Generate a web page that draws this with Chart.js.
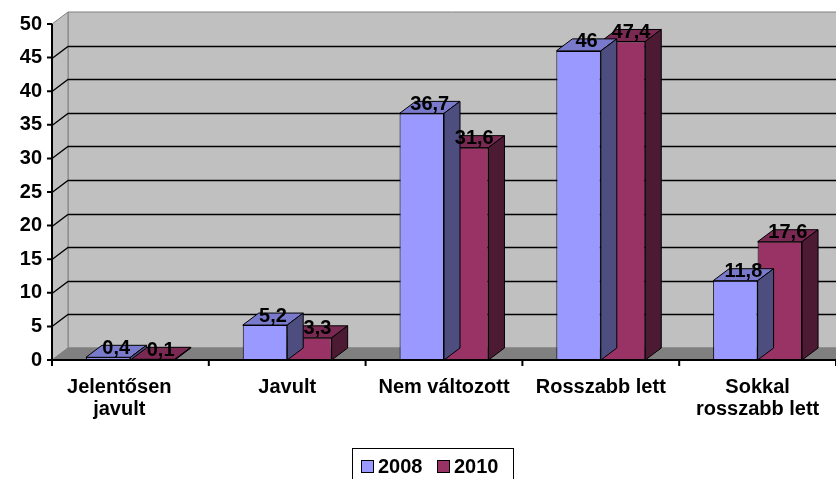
<!DOCTYPE html>
<html>
<head>
<meta charset="utf-8">
<script src="https://cdn.jsdelivr.net/npm/chart.js@4.4.1/dist/chart.umd.min.js"></script>
<style>
  body { margin: 0; background: #fff; }
  #wrap { width: 836px; height: 479px; }
</style>
</head>
<body>
<div id="wrap"><canvas id="chart"></canvas></div>
<script>
// first label sits a little left of its slot in the original, trailing spaces push it over
const categories = [["Jelentősen    ", "javult    "], "Javult", "Nem változott", "Rosszabb lett", ["Sokkal", "rosszabb lett"]];
const values2008 = [0.4, 5.2, 36.7, 46, 11.8];
const values2010 = [0.1, 3.3, 31.6, 47.4, 17.6];
const seriesNames = ["2008", "2010"];
const yMin = 0, yMax = 50, yStep = 5;

const FONT = "'Liberation Sans', Arial, sans-serif";
const DX = 16, DY = -12; // depth of the 3d box

const colors = [
  { front: "#9999ff", top: "#7a7acc", side: "#4d4d80" },
  { front: "#993366", top: "#7a2952", side: "#4d1a33" },
];

function fmt(v) {
  return String(v).replace(".", ",");
}

function poly(ctx, pts, fill, stroke) {
  ctx.beginPath();
  ctx.moveTo(pts[0][0], pts[0][1]);
  for (let i = 1; i < pts.length; i++) ctx.lineTo(pts[i][0], pts[i][1]);
  ctx.closePath();
  if (fill) { ctx.fillStyle = fill; ctx.fill(); }
  if (stroke) { ctx.strokeStyle = stroke; ctx.lineWidth = 1; ctx.stroke(); }
}

const box3d = {
  id: "box3d",
  beforeDatasetsDraw(chart) {
    const ctx = chart.ctx;
    const { left: L, right: R, top: T, bottom: B } = chart.chartArea;
    const y = chart.scales.y;
    ctx.save();
    // back wall, side wall, floor
    poly(ctx, [[L + DX, T + DY], [R + DX, T + DY], [R + DX, B + DY], [L + DX, B + DY]], "#c0c0c0", "#808080");
    poly(ctx, [[L, T], [L + DX, T + DY], [L + DX, B + DY], [L, B]], "#c0c0c0", "#808080");
    poly(ctx, [[L, B], [L + DX, B + DY], [R + DX, B + DY], [R, B]], "#808080", "#808080");
    // gridlines
    for (let v = yMin + yStep; v < yMax; v += yStep) {
      const py = Math.round(y.getPixelForValue(v)) + 0.5;
      ctx.strokeStyle = "#000";
      ctx.lineWidth = 1.3;
      ctx.beginPath();
      ctx.moveTo(L, py);
      ctx.lineTo(L + DX, py + DY);
      ctx.lineTo(R + DX, py + DY);
      ctx.stroke();
    }
    ctx.restore();
  },
  beforeDatasetDraw(chart, args) {
    const ctx = chart.ctx;
    const c = colors[args.index];
    ctx.save();
    args.meta.data.forEach((bar) => {
      const p = bar.getProps(["x", "y", "base", "width"], true);
      const l = p.x - p.width / 2, r = p.x + p.width / 2;
      poly(ctx, [[l, p.y], [l + DX, p.y + DY], [r + DX, p.y + DY], [r, p.y]], c.top, "#000");
      poly(ctx, [[r, p.y], [r + DX, p.y + DY], [r + DX, p.base + DY], [r, p.base]], c.side, "#000");
    });
    ctx.restore();
  },
  afterDatasetsDraw(chart) {
    const ctx = chart.ctx;
    const { left: L, right: R, top: T, bottom: B } = chart.chartArea;
    const y = chart.scales.y;
    ctx.save();
    ctx.strokeStyle = "#000";
    ctx.lineWidth = 2;
    ctx.beginPath();
    ctx.moveTo(L, T);
    ctx.lineTo(L, B + 6);
    ctx.moveTo(L, B);
    ctx.lineTo(R, B);
    for (let v = yMin; v <= yMax; v += yStep) {
      const py = y.getPixelForValue(v);
      ctx.moveTo(L - 5, py);
      ctx.lineTo(L, py);
    }
    const cw = (R - L) / categories.length;
    for (let i = 1; i <= categories.length; i++) {
      ctx.moveTo(L + cw * i, B);
      ctx.lineTo(L + cw * i, B + 6);
    }
    ctx.stroke();
    // value labels
    ctx.fillStyle = "#000";
    ctx.font = "bold 20px " + FONT;
    ctx.textAlign = "center";
    ctx.textBaseline = "middle";
    chart.data.datasets.forEach((ds, i) => {
      chart.getDatasetMeta(i).data.forEach((bar, j) => {
        const p = bar.getProps(["x", "y"], true);
        ctx.fillText(fmt(ds.data[j]), p.x + 8, p.y - 9);
      });
    });
    ctx.restore();
  },
  afterDraw(chart) {
    const ctx = chart.ctx;
    ctx.save();
    ctx.strokeStyle = "#000";
    ctx.lineWidth = 1;
    ctx.strokeRect(352.5, 448.5, 161, 40);
    ctx.font = "bold 20px " + FONT;
    ctx.textAlign = "left";
    ctx.textBaseline = "middle";
    const xs = [361, 437];
    chart.data.datasets.forEach((ds, i) => {
      ctx.fillStyle = ds.backgroundColor;
      ctx.fillRect(xs[i] + 0.5, 460.5, 12, 12);
      ctx.strokeRect(xs[i] + 0.5, 460.5, 12, 12);
      ctx.fillStyle = "#000";
      ctx.fillText(ds.label, xs[i] + 17, 467);
    });
    ctx.restore();
  },
};

new Chart(document.getElementById("chart"), {
  type: "bar",
  data: {
    labels: categories,
    datasets: [
      { label: seriesNames[0], data: values2008, backgroundColor: colors[0].front, borderColor: "#000", borderWidth: 1 },
      { label: seriesNames[1], data: values2010, backgroundColor: colors[1].front, borderColor: "#000", borderWidth: 1 },
    ],
  },
  options: {
    responsive: true,
    maintainAspectRatio: false,
    animation: false,
    layout: { padding: { top: 24, left: 0, right: 0, bottom: 0 } },
    categoryPercentage: 0.567,
    barPercentage: 1,
    plugins: {
      legend: { display: false },
      tooltip: { enabled: false },
    },
    scales: {
      x: {
        grid: { display: false, drawTicks: false },
        border: { display: false },
        ticks: {
          color: "#000",
          font: { family: FONT, size: 20, weight: "bold", lineHeight: 1.1 },
          padding: 16,
          maxRotation: 0,
        },
        afterFit(scale) { scale.height = 119; },
      },
      y: {
        min: yMin,
        max: yMax,
        grid: { display: false, drawTicks: false },
        border: { display: false },
        ticks: {
          stepSize: yStep,
          color: "#000",
          font: { family: FONT, size: 20, weight: "bold" },
          padding: 10,
        },
        afterFit(scale) { scale.width = 52; },
      },
    },
  },
  plugins: [box3d],
});
</script>
</body>
</html>
